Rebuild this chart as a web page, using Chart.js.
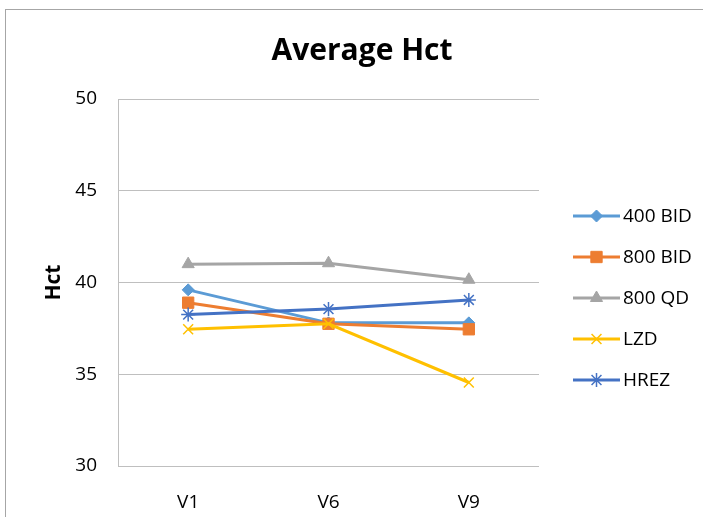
<!DOCTYPE html>
<html>
<head>
<meta charset="utf-8">
<script src="https://cdn.jsdelivr.net/npm/chart.js@4/dist/chart.umd.min.js"></script>
<style>
  html, body { margin: 0; padding: 0; background: #ffffff; }
  #wrap { width: 703px; height: 517px; position: relative; }
</style>
</head>
<body>
<div id="wrap"><canvas id="hct"></canvas></div>
<script>
// Visits on the x axis
const visits = ['V1', 'V6', 'V9'];

// Mean haematocrit per arm
const bid400 = [39.6, 37.8, 37.8];
const bid800 = [38.9, 37.75, 37.45];
const qd800  = [41.0, 41.05, 40.15];
const lzd    = [37.45, 37.75, 34.55];
const hrez   = [38.25, 38.55, 39.05];

// Arm names shown in the legend
const armNames = ['400 BID', '800 BID', '800 QD', 'LZD', 'HREZ'];

// Value axis range and step
const yMin = 30, yMax = 50, yStep = 5;

const chartTitle = 'Average Hct';

const FONT = "'Open Sans', 'DejaVu Sans', sans-serif";

const armStyles = [
  { color: '#5B9BD5', pointStyle: 'rectRot',  radius: 6,   width: 1 },
  { color: '#ED7D31', pointStyle: 'rect',     radius: 8,   width: 1 },
  { color: '#A5A5A5', pointStyle: 'triangle', radius: 7,   width: 1 },
  { color: '#FFC000', pointStyle: 'crossRot', radius: 7,   width: 1.5 },
  { color: '#4472C4', pointStyle: 'star',     radius: 7,   width: 1.5 }
];
const armValues = [bid400, bid800, qd800, lzd, hrez];

const datasets = armValues.map((vals, i) => ({
  label: armNames[i],
  data: vals,
  borderColor: armStyles[i].color,
  backgroundColor: armStyles[i].color,
  borderWidth: 3,
  pointStyle: armStyles[i].pointStyle,
  pointRadius: armStyles[i].radius,
  pointHoverRadius: armStyles[i].radius,
  pointBackgroundColor: armStyles[i].color,
  pointBorderColor: armStyles[i].color,
  pointBorderWidth: armStyles[i].width,
  tension: 0,
  fill: false,
  // later arms are painted over earlier ones
  order: armValues.length - i
}));

// Thin frame around the whole chart object
const framePlugin = {
  id: 'frame',
  beforeDraw(chart) {
    const ctx = chart.ctx;
    ctx.save();
    ctx.fillStyle = '#ffffff';
    ctx.fillRect(0, 0, chart.width, chart.height);
    ctx.strokeStyle = '#a6a6a6';
    ctx.lineWidth = 1;
    ctx.strokeRect(5.5, 9.5, chart.width + 20, chart.height + 20);
    ctx.restore();
  }
};

// Heading centred over the whole chart object (plot + legend)
const headingPlugin = {
  id: 'heading',
  afterDraw(chart) {
    const ctx = chart.ctx;
    ctx.save();
    ctx.fillStyle = '#000000';
    ctx.font = 'bold 30px ' + FONT;
    ctx.textAlign = 'center';
    ctx.textBaseline = 'middle';
    ctx.fillText(chartTitle, 362, 51);
    ctx.restore();
  }
};

// Legend on the right: a short line with the series marker, then the name
const sideLegend = {
  id: 'sideLegend',
  afterDraw(chart) {
    const ctx = chart.ctx;
    const area = chart.chartArea;
    const x0 = area.right + 34;
    const x1 = x0 + 47;
    const firstY = 216;
    const gap = 41;
    chart.data.datasets.forEach((ds, i) => {
      const y = firstY + i * gap;
      ctx.save();
      ctx.strokeStyle = ds.borderColor;
      ctx.lineWidth = ds.borderWidth;
      ctx.beginPath();
      ctx.moveTo(x0, y);
      ctx.lineTo(x1, y);
      ctx.stroke();
      ctx.restore();
      if (Chart.helpers && Chart.helpers.drawPoint) {
        ctx.save();
        ctx.fillStyle = ds.pointBackgroundColor;
        ctx.strokeStyle = ds.pointBorderColor;
        ctx.lineWidth = ds.pointBorderWidth;
        Chart.helpers.drawPoint(ctx, {
          pointStyle: ds.pointStyle,
          radius: ds.pointRadius,
          rotation: 0,
          borderWidth: ds.pointBorderWidth
        }, (x0 + x1) / 2, y);
        ctx.restore();
      }
      ctx.save();
      ctx.fillStyle = '#000000';
      ctx.font = '19px ' + FONT;
      ctx.textAlign = 'left';
      ctx.textBaseline = 'middle';
      ctx.fillText(ds.label, x1 + 3, y + 1);
      ctx.restore();
    });
  }
};

new Chart(document.getElementById('hct'), {
  type: 'line',
  data: { labels: visits, datasets },
  plugins: [framePlugin, headingPlugin, sideLegend],
  options: {
    responsive: true,
    maintainAspectRatio: false,
    animation: false,
    events: [],
    layout: { padding: { left: 0, right: 164, top: 99, bottom: 0 } },
    plugins: {
      legend: { display: false },
      tooltip: { enabled: false },
      title: { display: false }
    },
    scales: {
      x: {
        type: 'category',
        offset: true,
        grid: { display: false },
        border: { display: false },
        ticks: {
          color: '#000000',
          font: { family: FONT, size: 19, lineHeight: 1.2 },
          padding: 17,
          maxRotation: 0
        },
        afterFit(scale) { scale.height = 51; }
      },
      y: {
        min: yMin,
        max: yMax,
        grid: { color: '#bfbfbf', lineWidth: 1, drawTicks: false },
        border: { display: true, color: '#bfbfbf', width: 1 },
        ticks: {
          stepSize: yStep,
          color: '#000000',
          font: { family: FONT, size: 19, lineHeight: 1.2 },
          padding: 21
        },
        title: {
          display: true,
          text: 'Hct',
          color: '#000000',
          font: { family: FONT, size: 21, weight: 'bold', lineHeight: 1.2 },
          padding: { top: 41, bottom: 0 }
        },
        afterFit(scale) { scale.width = 118; }
      }
    }
  }
});
</script>
</body>
</html>
